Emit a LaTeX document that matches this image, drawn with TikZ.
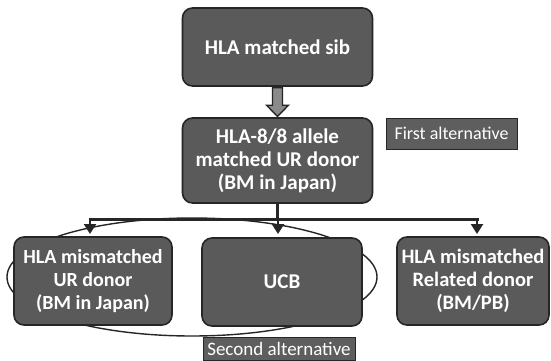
\documentclass[tikz,border=0pt]{standalone}
\usepackage{fontspec}
\setmainfont{Carlito}
\usetikzlibrary{arrows.meta,positioning,calc}
\definecolor{boxfill}{HTML}{5A5A5A}
\definecolor{labfill}{HTML}{5E5E5E}
\definecolor{arrowfill}{HTML}{8A8A8A}
\definecolor{edge}{HTML}{262626}
\tikzset{
  donor/.style={draw=edge, line width=1.6pt, fill=boxfill, rounded corners=10pt,
    text=white, font=\fontsize{21}{23}\selectfont\bfseries, align=center,
    inner sep=0pt},
  altlabel/.style={draw=edge, line width=0.8pt, fill=labfill, text=white,
    inner sep=1pt},
  conn/.style={draw=edge, line width=3pt},
  branch/.style={draw=edge, line width=2.2pt, -{Triangle[width=12pt,length=10pt]}},
  bigarrow/.style={draw=edge, line width=1.4pt, fill=arrowfill, line join=miter},
}
\begin{document}
\begin{tikzpicture}[x=1pt,y=-1pt]
\useasboundingbox (0,0) rectangle (551,361);
\fill[white] (0,0) rectangle (551,361);
% ellipse around second alternative
\draw[edge, line width=1.4pt] (192,277) ellipse [x radius=185, y radius=59];
% boxes
\node[donor, minimum width=190pt, minimum height=78pt] (sib) at (277.5,47) {HLA matched sib};
\node[donor, minimum width=190pt, minimum height=85pt] (ur) at (277.5,160.5) {HLA-8/8 allele\\matched UR donor\\(BM in Japan)};
\node[donor, minimum width=158pt, minimum height=88pt, font=\fontsize{20}{23}\selectfont\bfseries] (mm) at (93,281) {HLA mismatched\\UR donor\\(BM in Japan)};
\node[donor, minimum width=160pt, minimum height=88pt] (ucb) at (282,282) {UCB};
\node[donor, minimum width=152pt, minimum height=88pt, font=\fontsize{20.5}{23}\selectfont\bfseries] (rel) at (473,281) {HLA mismatched\\Related donor\\(BM/PB)};
% labels
\node[altlabel, minimum width=131pt, minimum height=31pt, font=\fontsize{18}{20}\selectfont] (first) at (451.5,133.5) {First alternative};
\node[altlabel, minimum width=152pt, minimum height=23pt, font=\fontsize{19}{20}\selectfont] (second) at (279,348.5) {Second alternative};
% big block arrow from sib to ur
\draw[bigarrow] ($(sib.south)+(-5,0.8)$) -- ($(ur.north)+(-5,-12)$) -- ($(ur.north)+(-11,-12)$)
  -- ($(ur.north)+(0,-0.8)$) -- ($(ur.north)+(11,-12)$) -- ($(ur.north)+(5,-12)$)
  -- ($(sib.south)+(5,0.8)$) -- cycle;
% branching connectors
\coordinate (split) at (277.5,219);
\coordinate (lft) at (90,219);
\coordinate (mid) at (278,219);
\coordinate (rgt) at (477,219);
\coordinate (lftend) at (90,234);
\coordinate (midend) at (278,234);
\coordinate (rgtend) at (477,234);
\draw[conn] (ur.south) -- (split);
\draw[conn] ([xshift=-1.5pt]lft) -- ([xshift=1.5pt]rgt);
\draw[branch] (lft) -- (lftend);
\draw[branch] (mid) -- (midend);
\draw[branch] (rgt) -- (rgtend);
\end{tikzpicture}
\end{document}
